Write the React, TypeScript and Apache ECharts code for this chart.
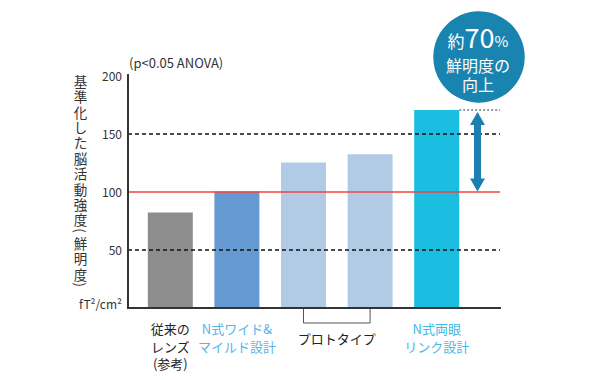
import React, { useEffect, useRef } from "react";
import * as echarts from "echarts";

const categories = ["従来のレンズ", "N式ワイド&マイルド設計", "プロトタイプ1", "プロトタイプ2", "N式両眼リンク設計"];
const xLabels = ["従来の\nレンズ\n(参考)", "N式ワイド&\nマイルド設計", "", "", "N式両眼\nリンク設計"];
const labelColors = ["#222222", "#58b4e6", "#58b4e6", "#58b4e6", "#42b8e4"];
const values = [82, 100, 125, 132, 170];
const barColors = ["#8d8d8d", "#6599d1", "#b1cbe6", "#b1cbe6", "#1bbde0"];
const groupLabel = "プロトタイプ";
const yMin = 0;
const yMax = 200;
const yInterval = 50;
const dashedLevels = [50, 150];
const referenceLevel = 100;
const improvedLevel = 170;
const titleText = "(p<0.05 ANOVA)";
const unitText = "fT²/cm²";
const yNameMain = "基準化した脳活動強度";
const yNameParen = "鮮明度";
const badgeLines = ["約", "70", "%", "鮮明度の", "向上"];

const FONT = "'Noto Sans CJK JP', 'Noto Sans', sans-serif";

export default function App() {
  const ref = useRef<HTMLDivElement>(null);
  useEffect(() => {
    document.body.style.margin = "0";
    if (!ref.current) return;
    const chart = echarts.init(ref.current, undefined, { renderer: "svg" });
    const frameAxisLine = { show: true, lineStyle: { color: "#333", width: 2 } };
    const option: any = {
      animation: false,
      textStyle: { fontFamily: FONT },
      grid: [
        { left: 128, top: 75, width: 372, height: 233 },
        { left: 137, top: 75, width: 333, height: 233 },
      ],
      xAxis: [
        { gridIndex: 0, type: "value", min: 0, max: 1, z: 10, axisLine: frameAxisLine, axisTick: { show: false }, axisLabel: { show: false }, splitLine: { show: false } },
        { gridIndex: 0, type: "value", position: "top", min: 0, max: 1, z: 10, axisLine: frameAxisLine, axisTick: { show: false }, axisLabel: { show: false }, splitLine: { show: false } },
        {
          gridIndex: 1,
          type: "category",
          data: categories,
          axisLine: { show: false },
          axisTick: { show: false },
          splitLine: { show: false },
          axisLabel: {
            interval: 0,
            margin: 12,
            fontSize: 13,
            lineHeight: 17.5,
            fontFamily: FONT,
            formatter: (_v: string, i: number) => xLabels[i],
            color: (_v: any, i: number) => labelColors[i],
          },
        },
      ],
      yAxis: [
        {
          gridIndex: 0,
          type: "value",
          min: yMin,
          max: yMax,
          interval: yInterval,
          z: 10,
          axisLine: frameAxisLine,
          axisTick: { show: false },
          splitLine: { show: false },
          axisLabel: { margin: 6, fontSize: 12, color: "#333", fontFamily: FONT, formatter: (v: number) => (v === 0 ? "" : String(v)) },
        },
        { gridIndex: 0, type: "value", position: "right", min: yMin, max: yMax, z: 10, axisLine: frameAxisLine, axisTick: { show: false }, axisLabel: { show: false }, splitLine: { show: false } },
        { gridIndex: 1, type: "value", min: yMin, max: yMax, show: false },
      ],
      series: [
        {
          type: "line",
          xAxisIndex: 0,
          yAxisIndex: 0,
          data: [],
          z: 1,
          markLine: {
            silent: true,
            symbol: "none",
            label: { show: false },
            lineStyle: { type: [4, 3], color: "#111", width: 1.5 },
            data: dashedLevels.map((v) => ({ yAxis: v })),
          },
        },
        {
          type: "bar",
          xAxisIndex: 2,
          yAxisIndex: 2,
          barWidth: 45,
          z: 3,
          data: values.map((v, i) => ({ value: v, itemStyle: { color: barColors[i] } })),
        },
        {
          type: "line",
          xAxisIndex: 0,
          yAxisIndex: 0,
          data: [],
          z: 6,
          markLine: {
            silent: true,
            symbol: "none",
            label: { show: false },
            lineStyle: { type: "solid", color: "#ef4343", width: 1.5 },
            data: [{ yAxis: referenceLevel }],
          },
        },
      ],
    };
    chart.setOption(option);

    const yPx = (v: number) => chart.convertToPixel({ yAxisIndex: 2 } as any, v) as number;
    const xCat = (i: number) => chart.convertToPixel({ xAxisIndex: 2 } as any, categories[i]) as number;
    const frameRight = chart.convertToPixel({ xAxisIndex: 0 } as any, 1) as number;
    const y0 = yPx(yMin);
    const yTop = yPx(improvedLevel);
    const yRef = yPx(referenceLevel);
    const barRight = xCat(4) + 22.5;
    const ax = frameRight - 22.5;
    const hw = 7.5, sw = 3.5, hl = 13;
    const aT = yTop + 2;
    const aB = yRef;
    const c2 = xCat(2), c3 = xCat(3);

    const pitch = 15.4;
    const nameTop = 73;
    const mainChars = yNameMain.split("");
    const parenChars = yNameParen.split("");
    const nameTexts: any[] = [];
    mainChars.forEach((ch, i) => {
      nameTexts.push({ type: "text", z: 5, x: 80.5, y: nameTop + pitch * (i + 0.5), style: { text: ch, font: `13.5px ${FONT}`, fill: "#333", align: "center", verticalAlign: "middle" } });
    });
    const parenStart = nameTop + pitch * mainChars.length;
    nameTexts.push({ type: "text", z: 5, x: 80.5, y: parenStart + 3.5, rotation: -Math.PI / 2, style: { text: "(", font: `13.5px ${FONT}`, fill: "#333", align: "center", verticalAlign: "middle" } });
    parenChars.forEach((ch, i) => {
      nameTexts.push({ type: "text", z: 5, x: 80.5, y: parenStart + 8 + pitch * (i + 0.5), style: { text: ch, font: `13.5px ${FONT}`, fill: "#333", align: "center", verticalAlign: "middle" } });
    });
    nameTexts.push({ type: "text", z: 5, x: 80.5, y: parenStart + 8 + pitch * parenChars.length + 3.5, rotation: -Math.PI / 2, style: { text: ")", font: `13.5px ${FONT}`, fill: "#333", align: "center", verticalAlign: "middle" } });

    const graphic: any[] = [
      { type: "line", z: 5, shape: { x1: barRight, y1: yTop, x2: frameRight, y2: yTop }, style: { stroke: "#999", lineWidth: 2, lineDash: [2, 2] } },
      {
        type: "polygon",
        z: 7,
        shape: {
          points: [
            [ax, aT], [ax + hw, aT + hl], [ax + sw, aT + hl], [ax + sw, aB - hl], [ax + hw, aB - hl],
            [ax, aB], [ax - hw, aB - hl], [ax - sw, aB - hl], [ax - sw, aT + hl], [ax - hw, aT + hl],
          ],
        },
        style: { fill: "#1b7fb1" },
      },
      { type: "polyline", z: 5, shape: { points: [[c2, y0], [c2, y0 + 15], [c3, y0 + 15], [c3, y0]] }, style: { stroke: "#555", lineWidth: 1, fill: null } },
      { type: "text", z: 5, x: (c2 + c3) / 2, y: y0 + 30, style: { text: groupLabel, font: `13px ${FONT}`, fill: "#222", align: "center", verticalAlign: "middle" } },
      { type: "text", z: 5, x: 129, y: 62, style: { text: titleText, font: `13px ${FONT}`, fill: "#333", align: "left", verticalAlign: "middle" } },
      { type: "text", z: 5, x: 122, y: 303, style: { text: unitText, font: `12px ${FONT}`, fill: "#333", align: "right", verticalAlign: "middle" } },
      ...nameTexts,
      { type: "circle", z: 20, shape: { cx: 479, cy: 57, r: 47 }, style: { fill: "#1a84b0", stroke: "#ffffff", lineWidth: 2.5 } },
      {
        type: "text",
        z: 21,
        x: 478,
        y: 50,
        style: {
          text: `{a|${badgeLines[0]}}{b|${badgeLines[1]}}{c|${badgeLines[2]}}`,
          align: "center",
          verticalAlign: "bottom",
          rich: {
            a: { font: `17px ${FONT}`, fill: "#fff", verticalAlign: "bottom", lineHeight: 26, padding: [0, 0, 1, 0] },
            b: { font: `27px ${FONT}`, fill: "#fff", verticalAlign: "bottom", lineHeight: 26 },
            c: { font: `15px ${FONT}`, fill: "#fff", verticalAlign: "bottom", lineHeight: 26, padding: [0, 0, 2, 0] },
          },
        },
      },
      { type: "text", z: 21, x: 478, y: 65, style: { text: badgeLines[3], font: `16px ${FONT}`, fill: "#fff", align: "center", verticalAlign: "middle" } },
      { type: "text", z: 21, x: 478, y: 84, style: { text: badgeLines[4], font: `16px ${FONT}`, fill: "#fff", align: "center", verticalAlign: "middle" } },
    ];
    chart.setOption({ graphic });
    return () => chart.dispose();
  }, []);
  return <div ref={ref} style={{ width: 600, height: 380 }} />;
}
